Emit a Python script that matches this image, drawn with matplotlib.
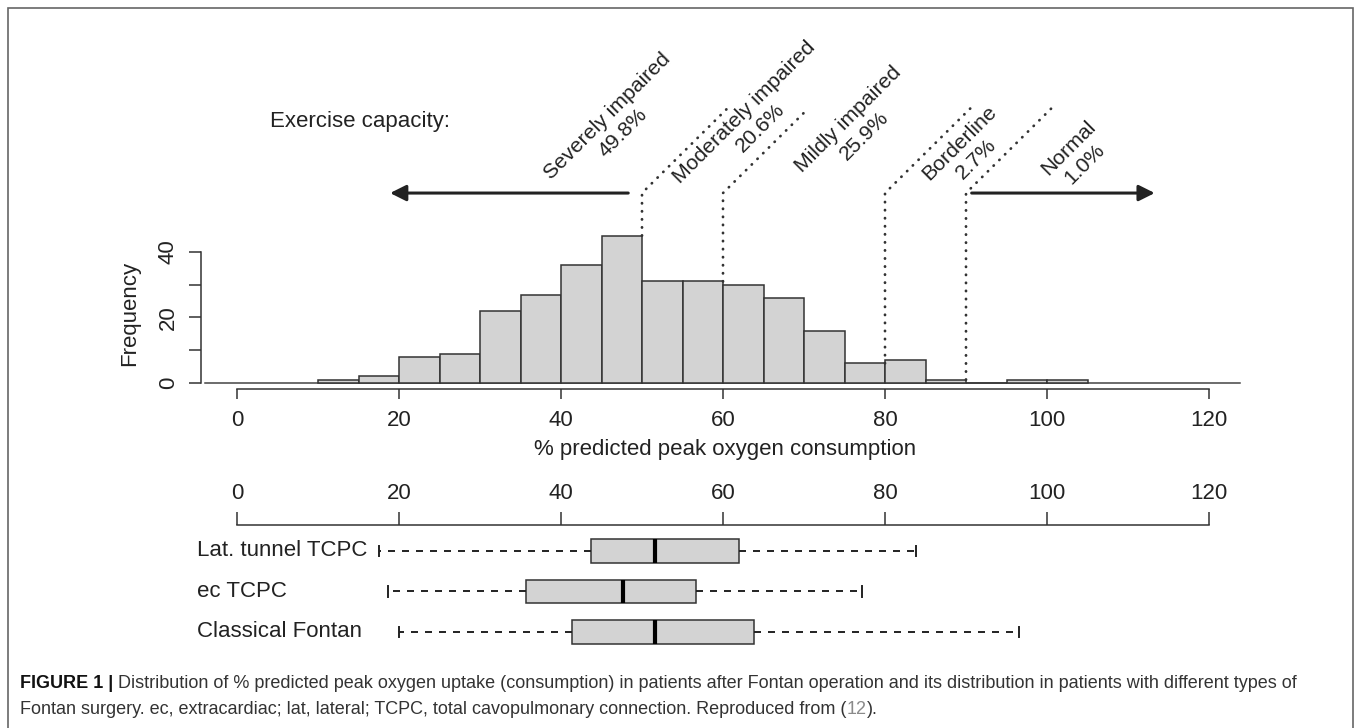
import matplotlib
matplotlib.use('Agg')
import matplotlib.pyplot as plt
from matplotlib.patches import Rectangle

plt.rcParams['font.family'] = ['Liberation Sans', 'DejaVu Sans']

# histogram data (bins of width 5, starting at 10)
bin_left = [10, 15, 20, 25, 30, 35, 40, 45, 50, 55, 60, 65, 70, 75, 80, 85, 90, 95, 100]
counts = [1, 2, 8, 9, 22, 27, 36, 45, 31, 31, 30, 26, 16, 6, 7, 1, 0, 1, 1]

# exercise capacity categories
cut_points = [50, 60, 80, 90]
cat_labels = ['Severely impaired\n49.8%', 'Moderately impaired\n20.6%',
              'Mildly impaired\n25.9%', 'Borderline\n2.7%', 'Normal\n1.0%']
cat_x = [46.7, 63.6, 76.5, 90.2, 103.7]
cat_y = [79.0, 80.3, 78.0, 71.0, 69.3]

# boxplot stats per surgery type
box_labels = ['Lat. tunnel TCPC', 'ec TCPC', 'Classical Fontan']
whislo = [17.5, 18.6, 20.0]
q1 = [43.7, 35.7, 41.3]
med = [51.6, 47.6, 51.6]
q3 = [62.0, 56.7, 63.8]
whishi = [83.8, 77.1, 96.5]

W, H = 1358, 728
TXT = '#222222'
FS = 16
FS_ROT = 15.3


def fx(x):
    return x / W


def fy(y):
    return 1 - y / H


fig = plt.figure(figsize=(W / 100, H / 100), dpi=100)

# ---- histogram panel ----
ax1 = fig.add_axes([fx(196.5), fy(395), (1249.5 - 196.5) / W, (395 - 15) / H])
ax1.set_xlim(-5, 125)
ax1.set_ylim((383 - 395) / 3.275, (383 - 15) / 3.275)
ax1.patch.set_alpha(0)

ax1.bar(bin_left, counts, width=5, align='edge', facecolor='#d3d3d3',
        edgecolor='#333333', linewidth=1.1, zorder=2)
ax1.plot([-3.95, 123.8], [0, 0], color='#444444', lw=1.1, zorder=1)

for sp in ['top', 'right']:
    ax1.spines[sp].set_visible(False)
ax1.spines['left'].set_position(('data', -4.44))
ax1.spines['left'].set_bounds(0, 40)
ax1.spines['bottom'].set_position(('data', (383 - 389) / 3.275))
ax1.spines['bottom'].set_bounds(0, 120)
for sp in ['left', 'bottom']:
    ax1.spines[sp].set_color('#333333')
    ax1.spines[sp].set_linewidth(1.1)

ax1.set_xticks(range(0, 121, 20))
ax1.set_yticks([0, 10, 20, 30, 40])
ax1.set_yticklabels(['0', '', '20', '', '40'], rotation=90, va='center')
ax1.tick_params(axis='x', length=7.2, width=1.1, pad=8, labelsize=FS,
                colors='#333333', labelcolor=TXT)
ax1.tick_params(axis='y', length=9, width=1.1, pad=7, labelsize=FS,
                colors='#333333', labelcolor=TXT)

# dotted cut lines with bend
for c in cut_points:
    h = counts[bin_left.index(c - 5)]
    ax1.plot([c, c, c + 10.6], [h, 58, 84], color='#333333', lw=2,
             linestyle=(0, (0.1, 2.8)), dash_capstyle='round', zorder=3)

# arrows
ax1.annotate('', xy=(18.9, 58), xytext=(48.3, 58),
             arrowprops=dict(arrowstyle='-|>', lw=2.2, color='#222222',
                             mutation_scale=24, shrinkA=0, shrinkB=0))
ax1.annotate('', xy=(113.3, 58), xytext=(90.7, 58),
             arrowprops=dict(arrowstyle='-|>', lw=2.2, color='#222222',
                             mutation_scale=24, shrinkA=0, shrinkB=0))

ax1.text(4.07, 79.7, 'Exercise capacity:', ha='left', va='center',
         fontsize=FS, color=TXT)
for lab, x, y in zip(cat_labels, cat_x, cat_y):
    ax1.text(x, y, lab, rotation=45, rotation_mode='anchor', ha='center',
             va='center', multialignment='center', linespacing=1.25,
             fontsize=FS_ROT, color=TXT)

fig.text(fx(130), fy(313), 'Frequency', rotation=90, ha='center', va='center',
         fontsize=FS, color=TXT)
fig.text(fx(725), fy(450), '% predicted peak oxygen consumption', ha='center',
         va='center', fontsize=FS, color=TXT)

# ---- boxplot panel ----
ax2 = fig.add_axes([fx(196.5), fy(655), (1249.5 - 196.5) / W, (655 - 525) / H])
ax2.set_xlim(-5, 125)
ax2.set_ylim(3.568, 0.358)
ax2.patch.set_alpha(0)

stats = []
for i in range(len(box_labels)):
    stats.append(dict(whislo=whislo[i], q1=q1[i], med=med[i], q3=q3[i],
                      whishi=whishi[i], fliers=[]))
ax2.bxp(stats, positions=[1, 2, 3], widths=0.57, capwidths=0.25,
        orientation='horizontal', patch_artist=True, showfliers=False,
        boxprops=dict(facecolor='#d3d3d3', edgecolor='#333333', linewidth=1.1),
        medianprops=dict(color='black', linewidth=3),
        whiskerprops=dict(color='#222222', linewidth=1.4, linestyle=(0, (3.6, 3.6))),
        capprops=dict(color='#222222', linewidth=1.4))

for i, lab in enumerate(box_labels):
    ax2.text(-4.94, i + 1, lab, ha='left', va='center', fontsize=FS, color=TXT)

for sp in ['left', 'right', 'bottom']:
    ax2.spines[sp].set_visible(False)
ax2.spines['top'].set_bounds(0, 120)
ax2.spines['top'].set_color('#333333')
ax2.spines['top'].set_linewidth(1.1)
ax2.xaxis.tick_top()
ax2.set_xticks(range(0, 121, 20))
ax2.set_yticks([])
ax2.tick_params(axis='x', length=9.4, width=1.1, pad=6, labelsize=FS,
                colors='#333333', labelcolor=TXT)

# ---- frame and caption ----
fig.patches.append(Rectangle((fx(8), fy(740)), (1353 - 8) / W, (740 - 8) / H,
                             transform=fig.transFigure, fill=False,
                             edgecolor='#666666', linewidth=1.2))

renderer = fig.canvas.get_renderer()


def put_pieces(pieces, x0, y0, size):
    x = x0
    for s, weight, col in pieces:
        t = fig.text(fx(x), fy(y0), s, fontsize=size, fontweight=weight,
                     color=col, ha='left', va='center')
        x += t.get_window_extent(renderer).width


CAP = 13.0
put_pieces([('FIGURE 1 | ', 'bold', '#111111'),
            ('Distribution of % predicted peak oxygen uptake (consumption) in patients '
             'after Fontan operation and its distribution in patients with different types of',
             'normal', '#333333')], 20, 684, CAP)
put_pieces([('Fontan surgery. ec, extracardiac; lat, lateral; TCPC, total cavopulmonary '
             'connection. Reproduced from (', 'normal', '#333333'),
            ('12', 'normal', '#8a8a8a'),
            (').', 'normal', '#333333')], 20, 710, CAP)

fig.savefig('out.png', dpi=100)
